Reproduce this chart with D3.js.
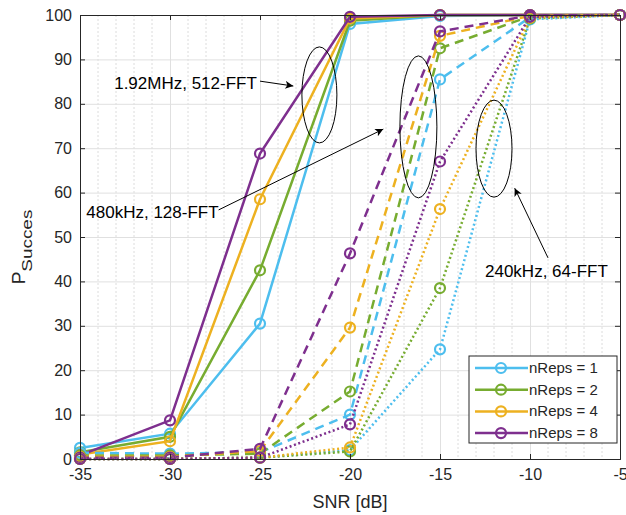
<!DOCTYPE html>
<html>
<head>
<meta charset="utf-8">
<script src="https://cdn.jsdelivr.net/npm/d3@7"></script>
<style>
  body { margin: 0; background: #fff; }
  text { font-family: "Liberation Sans", Arial, sans-serif; fill: #262626; }
</style>
</head>
<body>
<div id="chart"></div>
<script>
// data
var snr = [-35, -30, -25, -20, -15, -10, -5];
var nReps = [1, 2, 4, 8];
var colors = ["#4DBEEE", "#77AC30", "#EDB120", "#7E2F8E"];
var xTicks = [-35, -30, -25, -20, -15, -10, -5];
var yTicks = [0, 10, 20, 30, 40, 50, 60, 70, 80, 90, 100];

// 1.92MHz, 512-FFT (solid)
var p1920 = [
    [2.5, 5.7, 30.5, 98.0, 99.8, 100, 100],
    [1.5, 5.0, 42.5, 98.7, 100, 100, 100],
    [1.0, 4.0, 58.5, 99.2, 100, 100, 100],
    [0.8, 8.7, 68.8, 99.6, 100, 100, 100]
];
// 480kHz, 128-FFT (dashed)
var p480 = [
    [1.4, 1.2, 1.5, 10.0, 85.5, 99.5, 100],
    [0.8, 0.8, 1.2, 15.2, 92.5, 99.7, 100],
    [0.5, 0.5, 1.8, 29.6, 95.3, 99.8, 100],
    [0.3, 0.3, 2.3, 46.3, 96.3, 99.9, 100]
];
// 240kHz, 64-FFT (dotted)
var p240 = [
    [0, 0, 0.3, 2.0, 24.7, 99.0, 100],
    [0, 0, 0.3, 1.7, 38.5, 99.2, 100],
    [0, 0, 0.3, 2.6, 56.3, 99.4, 100],
    [0, 0, 0.3, 7.8, 67.0, 99.6, 100]
];

var W = 626, H = 515;
var margin = {top: 15, right: 6, bottom: 56, left: 80},
    width = W - margin.left - margin.right,
    height = H - margin.top - margin.bottom;

var svg = d3.select("#chart")
    .append("svg")
    .attr("width", W)
    .attr("height", H);

defs = svg.append("defs");
defs.append("marker")
    .attr("id", "head")
    .attr("viewBox", "0 0 10 10")
    .attr("refX", 10).attr("refY", 5)
    .attr("markerWidth", 12).attr("markerHeight", 8)
    .attr("markerUnits", "userSpaceOnUse")
    .attr("orient", "auto")
    .append("path")
    .attr("d", "M0,0 L10,5 L0,10 L2.5,5 Z")
    .attr("fill", "#000");

var g = svg.append("g")
    .attr("transform", "translate(" + margin.left + "," + margin.top + ")");

var x = d3.scaleLinear().domain([-35, -5]).range([0, width]);
var y = d3.scaleLinear().domain([0, 100]).range([height, 0]);

// minor grid (every dB)
g.append("g")
    .selectAll("line")
    .data(d3.range(-34, -5).filter(function(d) { return d % 5 != 0; }))
    .enter().append("line")
    .attr("x1", function(d) { return x(d); })
    .attr("x2", function(d) { return x(d); })
    .attr("y1", 0).attr("y2", height)
    .attr("stroke", "#dcdcdc")
    .attr("stroke-width", 1)
    .attr("stroke-dasharray", "2,2");

// major grid
g.append("g")
    .call(d3.axisBottom(x).tickValues(xTicks).tickSize(height).tickFormat(""))
    .call(function(s) {
        s.select(".domain").remove();
        s.selectAll("line").attr("stroke", "#e0e0e0");
    });
g.append("g")
    .call(d3.axisLeft(y).tickValues(yTicks).tickSize(-width).tickFormat(""))
    .call(function(s) {
        s.select(".domain").remove();
        s.selectAll("line").attr("stroke", "#e0e0e0");
    });

// lines
var line = d3.line()
    .x(function(d, i) { return x(snr[i]); })
    .y(function(d) { return y(d); });

var groups = [
    {data: p1920, dash: null},
    {data: p480, dash: "9,6"},
    {data: p240, dash: "2,2.6"}
];

groups.forEach(function(grp) {
    grp.data.forEach(function(vals, k) {
        var s = g.append("g");
        s.append("path")
            .datum(vals)
            .attr("d", line)
            .attr("fill", "none")
            .attr("stroke", colors[k])
            .attr("stroke-width", 2.5)
            .attr("stroke-dasharray", grp.dash);
        s.selectAll("circle")
            .data(vals)
            .enter().append("circle")
            .attr("cx", function(d, i) { return x(snr[i]); })
            .attr("cy", function(d) { return y(d); })
            .attr("r", 5)
            .attr("fill", "none")
            .attr("stroke", colors[k])
            .attr("stroke-width", 2.2);
    });
});

// axes box with inward ticks
var axisCol = "#262626";
var xb = g.append("g")
    .attr("transform", "translate(0," + height + ")")
    .call(d3.axisBottom(x).tickValues(xTicks).tickSize(-5).tickPadding(10)
        .tickFormat(function(d) { return d; }));
var xt = g.append("g")
    .call(d3.axisTop(x).tickValues(xTicks).tickSize(-5).tickFormat(""));
var yl = g.append("g")
    .call(d3.axisLeft(y).tickValues(yTicks).tickSize(-5).tickPadding(8));
var yr = g.append("g")
    .attr("transform", "translate(" + width + ",0)")
    .call(d3.axisRight(y).tickValues(yTicks).tickSize(-5).tickFormat(""));
[xb, xt, yl, yr].forEach(function(a) {
    a.select(".domain").attr("stroke", axisCol).attr("stroke-width", 1);
    a.selectAll("line").attr("stroke", axisCol);
    a.selectAll("text")
        .attr("fill", axisCol)
        .style("font-family", "Liberation Sans, Arial, sans-serif")
        .style("font-size", "16px");
});

// axis labels
svg.append("text")
    .attr("x", margin.left + width / 2)
    .attr("y", 508)
    .attr("text-anchor", "middle")
    .style("font-size", "18px")
    .text("SNR [dB]");

var yLab = svg.append("text")
    .attr("transform", "translate(25,247) rotate(-90)")
    .attr("text-anchor", "middle")
    .style("font-size", "19px");
yLab.append("tspan").text("P");
yLab.append("tspan")
    .attr("dy", 7)
    .attr("textLength", 62)
    .attr("lengthAdjust", "spacingAndGlyphs")
    .style("font-size", "15px")
    .text("Succes");

// annotations: text, arrow, ellipse (in data units)
var notes = [
    {label: "1.92MHz, 512-FFT", tx: -33.1, ty: 83.3, ax: [-25.0, 85.1], ah: [-23.15, 84.0],
     ex: -21.7, ey: 82.0, rx: 17.5, ry: 48},
    {label: "480kHz, 128-FFT", tx: -34.65, ty: 54.3, ax: [-27.3, 56.1], ah: [-18.15, 74.3],
     ex: -16.2, ey: 74.8, rx: 18.5, ry: 71},
    {label: "240kHz, 64-FFT", tx: -12.5, ty: 41.0, ax: [-9.0, 45.3], ah: [-10.85, 61.0],
     ex: -12.0, ey: 69.9, rx: 18, ry: 48.5}
];

var ann = g.append("g");
notes.forEach(function(n) {
    ann.append("text")
        .attr("x", x(n.tx))
        .attr("y", y(n.ty))
        .style("font-size", "17px")
        .style("fill", "#000")
        .text(n.label);
    ann.append("line")
        .attr("x1", x(n.ax[0])).attr("y1", y(n.ax[1]))
        .attr("x2", x(n.ah[0])).attr("y2", y(n.ah[1]))
        .attr("stroke", "#000")
        .attr("stroke-width", 1)
        .attr("marker-end", "url(#head)");
    ann.append("ellipse")
        .attr("cx", x(n.ex)).attr("cy", y(n.ey))
        .attr("rx", n.rx).attr("ry", n.ry)
        .attr("fill", "none")
        .attr("stroke", "#000")
        .attr("stroke-width", 1);
});

// legend
var leg = svg.append("g").attr("transform", "translate(469,356)");
leg.append("rect")
    .attr("width", 148).attr("height", 87)
    .attr("fill", "#fff")
    .attr("stroke", axisCol)
    .attr("stroke-width", 1);
nReps.forEach(function(r, k) {
    var ly = 12 + k * 21.7;
    leg.append("line")
        .attr("x1", 6).attr("x2", 59)
        .attr("y1", ly).attr("y2", ly)
        .attr("stroke", colors[k])
        .attr("stroke-width", 2.5);
    leg.append("circle")
        .attr("cx", 32).attr("cy", ly).attr("r", 5)
        .attr("fill", "none")
        .attr("stroke", colors[k])
        .attr("stroke-width", 2.2);
    leg.append("text")
        .attr("x", 60).attr("y", ly + 5)
        .style("font-size", "15px")
        .text("nReps = " + r);
});
</script>
</body>
</html>
